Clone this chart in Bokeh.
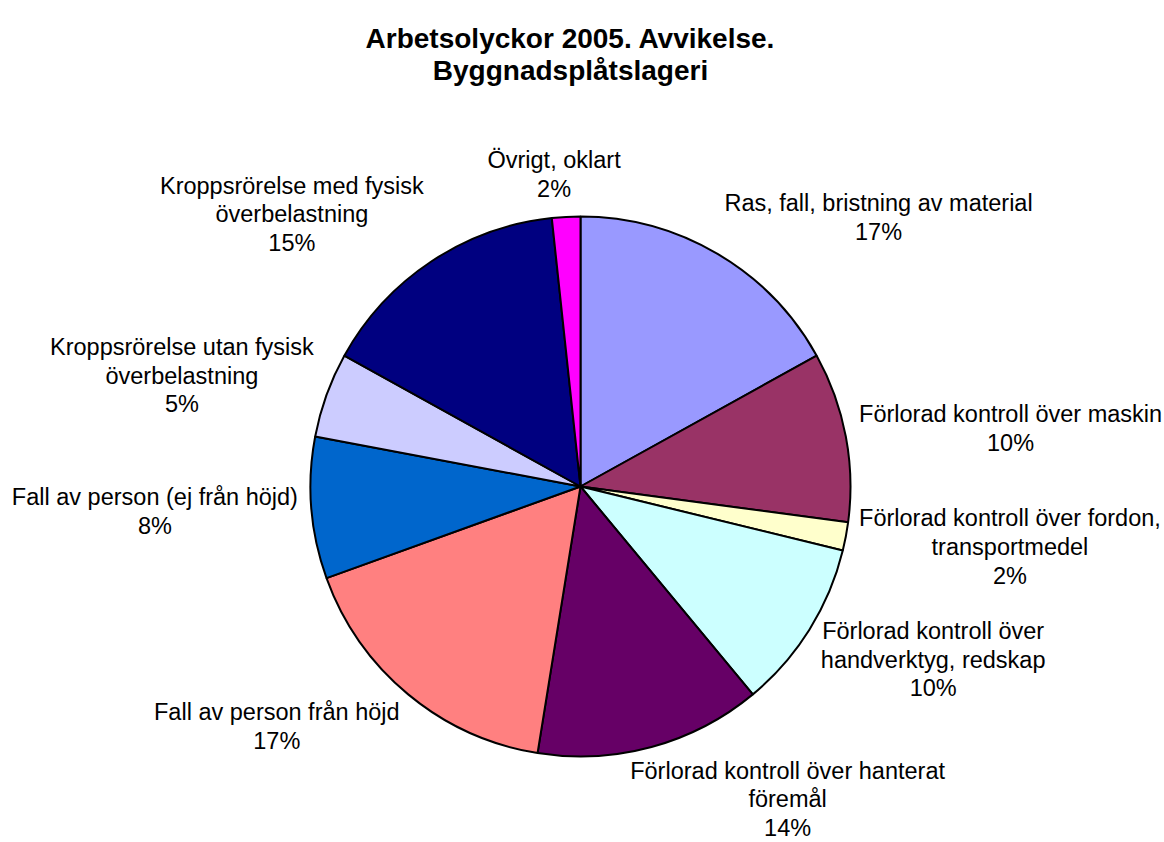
import math
from bokeh.plotting import figure
from bokeh.models import ColumnDataSource
from bokeh.core.properties import value
from bokeh.embed import file_html
from bokeh.resources import INLINE

# ---- data ----
title_lines = ["Arbetsolyckor 2005. Avvikelse.", "Byggnadsplåtslageri"]
categories = [
    "Ras, fall, bristning av material",
    "Förlorad kontroll över maskin",
    "Förlorad kontroll över fordon,\ntransportmedel",
    "Förlorad kontroll över\nhandverktyg, redskap",
    "Förlorad kontroll över hanterat\nföremål",
    "Fall av person från höjd",
    "Fall av person (ej från höjd)",
    "Kroppsrörelse utan fysisk\növerbelastning",
    "Kroppsrörelse med fysisk\növerbelastning",
    "Övrigt, oklart",
]
counts = [10, 6, 1, 6, 8, 10, 5, 3, 9, 1]
colors = ["#9999FF", "#993366", "#FFFFCC", "#CCFFFF", "#660066",
          "#FF8080", "#0066CC", "#CCCCFF", "#000080", "#FF00FF"]

# ---- layout / style ----
W, H = 1164, 842
CX, CY, R = 580, 842 - 486, 270
FONT = "Liberation Sans"
LABEL_PX = 23.5
LINE_H = 28.7
MIN_LINE_Y = 14.5  # keep the lowest text line inside the canvas

# Arial / Liberation Sans advance widths (1/1000 em) for width estimation
CW = {" ": 278, ",": 278, ".": 278, "(": 333, ")": 333, "%": 889,
      "a": 556, "b": 556, "c": 500, "d": 556, "e": 556, "f": 278, "g": 556,
      "h": 556, "i": 222, "j": 222, "k": 500, "l": 222, "m": 833, "n": 556,
      "o": 556, "p": 556, "r": 333, "s": 500, "t": 278, "u": 556, "v": 500,
      "y": 500, "å": 556, "ö": 556, "F": 611, "K": 667, "R": 722, "Ö": 778}


def text_w(s):
    return sum(CW.get(ch, 556) for ch in s) * LABEL_PX / 1000.0


total = sum(counts)
starts, ends = [], []
cum = 0
for c in counts:
    starts.append(math.pi / 2 - 2 * math.pi * cum / total)
    cum += c
    ends.append(math.pi / 2 - 2 * math.pi * cum / total)

p = figure(width=W, height=H, x_range=(0, W), y_range=(0, H),
           output_backend="svg", toolbar_location=None,
           x_axis_location=None, y_axis_location=None, min_border=0)
p.grid.visible = False
p.outline_line_color = None
p.background_fill_color = "white"
p.border_fill_color = "white"

src = ColumnDataSource(dict(start=starts, end=ends, color=colors))
p.wedge(x=CX, y=CY, radius=R, start_angle="start", end_angle="end",
        direction="clock", fill_color="color", line_color="black",
        line_width=2, source=src)

# data labels
lx, ly, lt = [], [], []
for cat, c, s, e in zip(categories, counts, starts, ends):
    mid = (s + e) / 2
    ca, sa = math.cos(mid), math.sin(mid)
    lines = cat.split("\n") + ["%d%%" % round(100.0 * c / total)]
    w = max(text_w(t) for t in lines)
    n = len(lines)
    h = n * LINE_H
    px = CX + 1.05 * R * ca
    py = CY + 1.05 * R * sa
    f = min(max(0.5 - 1.6 * ca, 0.0), 1.0)
    xc = px + w * (0.5 - f)
    yc = py + h * sa / 2
    yc = max(yc, MIN_LINE_Y + (n - 1) / 2 * LINE_H)
    for j, t in enumerate(lines):
        lx.append(xc)
        ly.append(yc + (n - 1) / 2 * LINE_H - j * LINE_H)
        lt.append(t)

p.text(x=lx, y=ly, text=lt, text_align="center", text_baseline="middle",
       text_font=value(FONT), text_font_size="%.1fpx" % LABEL_PX,
       text_color="black")

# title
p.text(x=[570, 570], y=[H - 38, H - 70], text=title_lines, text_align="center",
       text_baseline="middle", text_font=value(FONT), text_font_size="28px",
       text_font_style="bold", text_color="black")

open("out.html", "w").write(file_html(p, INLINE))
